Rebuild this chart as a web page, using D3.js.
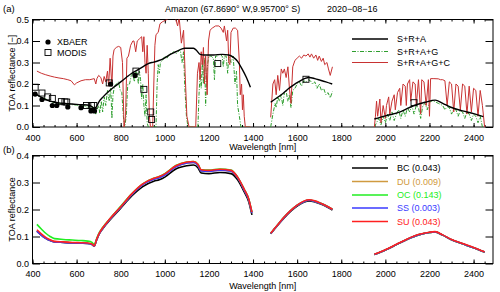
<!DOCTYPE html>
<html><head><meta charset="utf-8">
<script src="https://cdn.jsdelivr.net/npm/d3@7"></script>
<style>
body{margin:0;background:#fff;}
text{font-family:"Liberation Sans",Arial,sans-serif;}
</style></head><body>
<svg id="c" width="500" height="292"></svg>
<script>
// ---------- Panel (a) data ----------
const xTicksMajor = [400,600,800,1000,1200,1400,1600,1800,2000,2200,2400];
const yTicksA = [0.0,0.1,0.2,0.3,0.4,0.5];
const yTicksB = [0.0,0.1,0.2,0.3,0.4];

// S+R+A (black)
const blkWl1 = [416,440,460,480,500,520,550,580,620,660,680,690,700,720,750,775,800,825,850,875,900,925,950,970,1000,1025,1050,1075,1090,1130,1145,1160,1180,1220,1260,1290,1310,1330,1350,1370,1388];
const blkV1  = [0.153,0.138,0.127,0.12,0.115,0.112,0.11,0.107,0.104,0.1,0.088,0.095,0.115,0.14,0.17,0.19,0.21,0.23,0.25,0.265,0.28,0.295,0.302,0.308,0.322,0.338,0.35,0.362,0.366,0.366,0.355,0.338,0.335,0.335,0.338,0.335,0.325,0.305,0.27,0.23,0.185];
const blkWl2 = [1480,1510,1537,1560,1583,1610,1636,1655,1680,1704,1730,1759];
const blkV2  = [0.115,0.137,0.157,0.178,0.195,0.212,0.226,0.23,0.225,0.218,0.21,0.2];
const blkWl3 = [1950,2000,2067,2130,2180,2226,2260,2294,2350,2400,2444];
const blkV3  = [0.037,0.052,0.07,0.1,0.115,0.125,0.11,0.093,0.075,0.062,0.048];

// S+R+A+G (green dash-dot)
const grnWl1 = [416,500,600,640,650,655,665,672,680,687,692,700,705,712,718,725,732,740,748,755,760,765,772,780,790,798,805,812,818,825,832,840,848,855,862,868,875,880,885,890,895,900,905,910,915,920,925,960,965,970,975,980,990,1000,1010,1020,1030,1040,1050,1060,1070,1078,1085,1090,1098,1105,1150,1155,1160,1165,1170,1175,1180,1185,1190,1195,1200,1210,1220,1225,1230,1240,1250,1260,1265,1270,1278,1285,1290,1300,1310,1318,1325,1330,1338,1345,1388];
const grnV1  = [0.15,0.112,0.102,0.098,0.085,0.1,0.08,0.095,0.085,0.06,0.08,0.1,0.065,0.12,0.07,0.14,0.1,0.17,0.12,0.18,0.04,0.15,0.19,0.2,0.21,0.17,0.16,0.05,0.0,0.05,0.2,0.2,0.24,0.25,0.21,0.26,0.25,0.2,0.26,0.22,0.13,0.2,0.1,0.05,0.15,0.02,0.0,0.0,0.2,0.29,0.25,0.3,0.31,0.33,0.32,0.34,0.34,0.35,0.34,0.35,0.36,0.3,0.35,0.2,0.05,0.0,0.0,0.15,0.25,0.18,0.3,0.2,0.32,0.1,0.25,0.3,0.33,0.33,0.32,0.22,0.33,0.33,0.34,0.33,0.28,0.33,0.33,0.25,0.33,0.3,0.33,0.2,0.26,0.1,0.05,0.0,0.0];
const grnWl2 = [1480,1490,1500,1505,1512,1520,1527,1535,1542,1550,1557,1565,1572,1580,1590,1600,1610,1620,1630,1640,1650,1660,1670,1680,1690,1700,1710,1720,1730,1740,1750,1760];
const grnV2  = [0.0,0.06,0.11,0.09,0.14,0.12,0.15,0.1,0.16,0.17,0.12,0.15,0.09,0.17,0.18,0.2,0.21,0.19,0.215,0.21,0.22,0.215,0.2,0.21,0.18,0.2,0.17,0.18,0.15,0.16,0.135,0.165];
const grnWl3 = [1950,1960,1970,1980,1990,2000,2010,2020,2030,2040,2050,2060,2070,2080,2090,2100,2110,2120,2130,2140,2150,2160,2170,2180,2190,2200,2210,2220,2230,2240,2250,2260,2270,2280,2290,2300,2310,2320,2330,2340,2350,2360,2370,2380,2390,2400,2410,2420,2430,2440,2450];
const grnV3  = [0.0,0.02,0.04,0.01,0.05,0.02,0.06,0.03,0.07,0.03,0.06,0.08,0.04,0.08,0.05,0.09,0.07,0.1,0.06,0.1,0.09,0.04,0.1,0.11,0.08,0.115,0.12,0.12,0.115,0.11,0.105,0.1,0.08,0.095,0.09,0.06,0.085,0.08,0.05,0.078,0.07,0.04,0.07,0.06,0.03,0.06,0.05,0.02,0.05,0.0,0.0];

// S+R+A+G+C (red)
const redWl1 = [420,440,460,480,500,520,540,560,575,590,600,620,640,660,680,687,692,700,710,718,725,732,740,745,752,760,765,770,780,790,800,808,815,822,828,835,845,855,860,868,875,885,895,900,905,910,915,920,925,930,935,945,950,955,960,970,978,990,1010,1020,1035,1050,1058,1065,1075,1085,1092,1100,1110,1140,1148,1155,1160,1165,1170,1175,1180,1185,1192,1198,1205,1215,1230,1245,1255,1265,1270,1280,1285,1290,1295,1300,1310,1320,1330,1338,1342,1348,1352,1356,1360,1365,1388];
const redV1  = [0.26,0.25,0.243,0.237,0.232,0.228,0.225,0.22,0.215,0.196,0.205,0.215,0.22,0.22,0.225,0.2,0.225,0.24,0.23,0.2,0.235,0.21,0.26,0.19,0.32,0.19,0.33,0.36,0.37,0.375,0.37,0.3,0.0,0.05,0.32,0.33,0.38,0.4,0.4,0.35,0.4,0.41,0.42,0.35,0.42,0.3,0.25,0.38,0.25,0.05,0.0,0.0,0.2,0.38,0.43,0.44,0.48,0.49,0.5,0.51,0.52,0.5,0.47,0.51,0.39,0.45,0.25,0.05,0.0,0.0,0.25,0.3,0.22,0.35,0.29,0.37,0.2,0.33,0.15,0.4,0.45,0.46,0.47,0.47,0.46,0.44,0.47,0.4,0.45,0.3,0.29,0.44,0.46,0.46,0.45,0.3,0.15,0.2,0.08,0.15,0.05,0.0,0.0];
const redWl2 = [1480,1490,1498,1505,1512,1520,1528,1535,1542,1550,1558,1565,1572,1580,1590,1600,1610,1620,1630,1640,1650,1658,1665,1675,1685,1693,1700,1710,1718,1725,1735,1742,1750,1760];
const redV2  = [0.045,0.2,0.22,0.15,0.24,0.17,0.27,0.25,0.27,0.23,0.28,0.18,0.11,0.28,0.31,0.32,0.33,0.32,0.335,0.33,0.34,0.325,0.34,0.32,0.335,0.31,0.33,0.305,0.32,0.29,0.3,0.27,0.24,0.28];
const redWl3 = [1950,1955,1960,1965,1975,1980,1990,2000,2005,2015,2020,2030,2040,2045,2055,2065,2070,2080,2090,2095,2100,2110,2115,2125,2135,2140,2150,2160,2165,2175,2185,2195,2200,2205,2220,2240,2250,2260,2270,2280,2290,2300,2310,2320,2330,2340,2350,2360,2370,2380,2390,2400,2410,2420,2430,2440,2450];
const redV3  = [0.0,0.05,0.12,0.05,0.13,0.02,0.1,0.04,0.1,0.14,0.06,0.12,0.15,0.08,0.16,0.18,0.1,0.2,0.19,0.1,0.2,0.22,0.12,0.21,0.2,0.1,0.22,0.06,0.22,0.21,0.1,0.22,0.05,0.225,0.225,0.224,0.22,0.22,0.215,0.1,0.21,0.2,0.07,0.2,0.19,0.08,0.2,0.19,0.06,0.19,0.07,0.18,0.17,0.05,0.17,0.1,0.0];

// XBAER (dots) and MODIS (squares)
const xbaerWl = [412,443,490,510,560,620,665,681,754,865];
const xbaerV  = [0.153,0.128,0.1,0.1,0.093,0.09,0.075,0.075,0.2,0.24];
const modisWl = [412,443,469,490,531,547,555,645,667,678,748,869,905,936,940,1240,1640,2130];
const modisV  = [0.185,0.158,0.14,0.133,0.118,0.117,0.116,0.1,0.1,0.1,0.205,0.26,0.175,0.07,0.035,0.295,0.222,0.113];

// ---------- Panel (b) data ----------
const bWl1 = [420,440,460,480,500,540,580,620,650,670,680,690,700,720,750,800,850,900,950,975,1000,1050,1100,1130,1150,1165,1200,1250,1300,1330,1360,1380,1395];
const bBC1 = [0.12,0.105,0.093,0.085,0.08,0.078,0.076,0.075,0.074,0.07,0.064,0.085,0.105,0.13,0.16,0.205,0.25,0.285,0.305,0.31,0.32,0.35,0.362,0.365,0.355,0.335,0.333,0.337,0.333,0.31,0.265,0.23,0.18];
const bDU1 = [0.121,0.106,0.094,0.086,0.081,0.079,0.077,0.076,0.075,0.071,0.065,0.086,0.106,0.132,0.163,0.208,0.255,0.292,0.312,0.318,0.328,0.358,0.372,0.374,0.364,0.343,0.342,0.346,0.342,0.318,0.272,0.237,0.187];
const bOC1 = [0.145,0.128,0.112,0.1,0.092,0.089,0.087,0.085,0.083,0.078,0.07,0.09,0.11,0.135,0.165,0.212,0.258,0.295,0.316,0.322,0.333,0.363,0.376,0.378,0.368,0.347,0.346,0.35,0.346,0.32,0.275,0.24,0.19];
const bSS1 = [0.12,0.105,0.093,0.085,0.08,0.078,0.076,0.075,0.074,0.07,0.065,0.086,0.106,0.132,0.163,0.208,0.255,0.292,0.312,0.318,0.328,0.358,0.372,0.374,0.364,0.343,0.342,0.346,0.342,0.318,0.272,0.237,0.187];
const bSU1 = [0.125,0.11,0.097,0.088,0.082,0.08,0.078,0.077,0.076,0.072,0.066,0.088,0.108,0.134,0.165,0.21,0.258,0.295,0.316,0.322,0.332,0.362,0.376,0.378,0.368,0.347,0.345,0.349,0.345,0.32,0.275,0.24,0.19];
const bWl2 = [1480,1510,1540,1570,1600,1630,1655,1680,1710,1740,1760];
const bBC2 = [0.11,0.14,0.168,0.193,0.213,0.227,0.232,0.228,0.219,0.207,0.198];
const bDU2 = [0.111,0.141,0.17,0.195,0.215,0.229,0.234,0.23,0.221,0.209,0.2];
const bOC2 = [0.112,0.142,0.171,0.196,0.216,0.23,0.235,0.231,0.222,0.21,0.201];
const bSS2 = [0.111,0.141,0.17,0.195,0.215,0.229,0.234,0.23,0.221,0.209,0.2];
const bSU2 = [0.112,0.142,0.171,0.196,0.216,0.231,0.236,0.232,0.222,0.21,0.201];
const bWl3 = [1950,2000,2050,2100,2150,2200,2225,2260,2300,2350,2400,2450];
const bBC3 = [0.033,0.05,0.07,0.09,0.106,0.115,0.117,0.105,0.088,0.073,0.058,0.042];
const bDU3 = [0.033,0.05,0.07,0.09,0.106,0.115,0.117,0.105,0.088,0.073,0.058,0.042];
const bOC3 = [0.033,0.05,0.07,0.09,0.106,0.115,0.117,0.105,0.088,0.073,0.058,0.042];
const bSS3 = [0.033,0.05,0.07,0.09,0.106,0.115,0.117,0.105,0.088,0.073,0.058,0.042];
const bSU3 = [0.034,0.051,0.071,0.091,0.107,0.116,0.118,0.106,0.089,0.074,0.059,0.043];

const aerosolNames = ["BC (0.043)","DU (0.009)","OC (0.143)","SS (0.003)","SU (0.043)"];
const aerosolColors = ["#000000","#d09a40","#22ee22","#3a3aff","#ff2020"];
const legendA = ["S+R+A","S+R+A+G","S+R+A+G+C"];

// ---------- drawing ----------
const svg = d3.select("#c");
const L = 32.5, R = 493;
const x = d3.scaleLinear().domain([400,2488]).range([L,R]);
const yA = d3.scaleLinear().domain([0,0.5]).range([127,19.5]);
const yB = d3.scaleLinear().domain([0,0.4]).range([263.5,155.5]);
const minorX = d3.range(400,2488,50);

function zip(w,v){return w.map((d,i)=>[d,v[i]]);}

svg.append("defs").append("clipPath").attr("id","clipA")
  .append("rect").attr("x",L).attr("y",19.5).attr("width",R-L).attr("height",127-19.5);
svg.select("defs").append("clipPath").attr("id","clipB")
  .append("rect").attr("x",L).attr("y",155.5).attr("width",R-L).attr("height",263.5-155.5);

function frame(y, yTicks, top, bot, yLabel){
  // bottom major
  svg.append("g").attr("transform",`translate(0,${bot})`)
    .call(d3.axisBottom(x).tickValues(xTicksMajor).tickSize(-4).tickPadding(7.5).tickFormat(d3.format("d")))
    .call(g=>{g.select(".domain").remove(); g.selectAll("text").attr("font-size",9).attr("fill","#000").attr("font-family","Liberation Sans, Arial");});
  svg.append("g").attr("transform",`translate(0,${bot})`)
    .call(d3.axisBottom(x).tickValues(minorX).tickSize(-2).tickFormat(""))
    .call(g=>g.select(".domain").remove());
  // top
  svg.append("g").attr("transform",`translate(0,${top})`)
    .call(d3.axisTop(x).tickValues(xTicksMajor).tickSize(-4).tickFormat(""))
    .call(g=>g.select(".domain").remove());
  svg.append("g").attr("transform",`translate(0,${top})`)
    .call(d3.axisTop(x).tickValues(minorX).tickSize(-2).tickFormat(""))
    .call(g=>g.select(".domain").remove());
  // left
  svg.append("g").attr("transform",`translate(${L},0)`)
    .call(d3.axisLeft(y).tickValues(yTicks).tickSize(-7.5).tickPadding(3.5).tickFormat(d3.format(".1f")))
    .call(g=>{g.select(".domain").remove(); g.selectAll("text").attr("font-size",9).attr("fill","#000").attr("font-family","Liberation Sans, Arial");});
  // right
  svg.append("g").attr("transform",`translate(${R},0)`)
    .call(d3.axisRight(y).tickValues(yTicks).tickSize(-7.5).tickFormat(""))
    .call(g=>g.select(".domain").remove());
  svg.append("rect").attr("x",L).attr("y",top).attr("width",R-L).attr("height",bot-top)
    .attr("fill","none").attr("stroke","#000").attr("stroke-width",1);
  svg.selectAll(".tick line").attr("stroke","#000");
  svg.append("text").attr("transform",`translate(14.5,${(top+bot)/2}) rotate(-90)`)
    .attr("text-anchor","middle").attr("font-size",9).text(yLabel);
}

frame(yA, yTicksA, 19.5, 127, "TOA reflectance [\u2212]");
frame(yB, yTicksB, 155.5, 263.5, "TOA reflectance");

svg.append("text").attr("x",L+(R-L)/2).attr("y",150).attr("text-anchor","middle").attr("font-size",9).text("Wavelength [nm]");
svg.append("text").attr("x",L+(R-L)/2).attr("y",289).attr("text-anchor","middle").attr("font-size",9).text("Wavelength [nm]");
svg.append("text").attr("x",3).attr("y",12).attr("font-size",9.5).text("(a)");
svg.append("text").attr("x",3).attr("y",153).attr("font-size",9.5).text("(b)");
svg.append("text").attr("x",165).attr("y",11.5).attr("font-size",9).text("Amazon (67.8690\u00b0 W,9.95700\u00b0 S)");
svg.append("text").attr("x",327).attr("y",11.5).attr("font-size",9).text("2020\u221208\u221216");

const lineA = d3.line().x(d=>x(d[0])).y(d=>yA(d[1]));
const lineB = d3.line().x(d=>x(d[0])).y(d=>yB(d[1])).curve(d3.curveMonotoneX);
const gA = svg.append("g").attr("clip-path","url(#clipA)");

const blackSegs = [zip(blkWl1,blkV1),zip(blkWl2,blkV2),zip(blkWl3,blkV3)];
const greenSegs = [zip(grnWl1,grnV1),zip(grnWl2,grnV2),zip(grnWl3,grnV3)];
const redSegs = [zip(redWl1,redV1),zip(redWl2,redV2),zip(redWl3,redV3)];

greenSegs.forEach(s=>gA.append("path").attr("d",lineA(s)).attr("fill","none").attr("stroke","#2e9e2e").attr("stroke-width",1).attr("stroke-dasharray","4,1.5,1,1.5"));
redSegs.forEach(s=>gA.append("path").attr("d",lineA(s)).attr("fill","none").attr("stroke","#c83232").attr("stroke-width",1));
blackSegs.forEach(s=>gA.append("path").attr("d",lineA.curve(d3.curveMonotoneX)(s)).attr("fill","none").attr("stroke","#000").attr("stroke-width",1.4));
lineA.curve(d3.curveLinear);

// markers
gA.selectAll(".dot").data(zip(xbaerWl,xbaerV)).join("circle")
  .attr("cx",d=>x(d[0])).attr("cy",d=>yA(d[1])).attr("r",2.6).attr("fill","#000");
gA.selectAll(".sq").data(zip(modisWl,modisV)).join("rect")
  .attr("x",d=>x(d[0])-3).attr("y",d=>yA(d[1])-3).attr("width",6).attr("height",6)
  .attr("fill","none").attr("stroke","#000").attr("stroke-width",0.9);

// legend (a) markers
svg.append("circle").attr("cx",48).attr("cy",42).attr("r",2.6).attr("fill","#000");
svg.append("text").attr("x",57).attr("y",45).attr("font-size",9).text("XBAER");
svg.append("rect").attr("x",45).attr("y",49.5).attr("width",6).attr("height",6).attr("fill","none").attr("stroke","#000").attr("stroke-width",0.9);
svg.append("text").attr("x",57).attr("y",55.5).attr("font-size",9).text("MODIS");

// legend (a) lines
const legAy = [39,51.5,62.5];
const legAstyle = [{c:"#000",w:1.4,d:null},{c:"#2e9e2e",w:1,d:"4,1.5,1,1.5"},{c:"#c83232",w:1,d:null}];
legendA.forEach((t,i)=>{
  svg.append("line").attr("x1",352).attr("x2",388).attr("y1",legAy[i]).attr("y2",legAy[i])
    .attr("stroke",legAstyle[i].c).attr("stroke-width",legAstyle[i].w).attr("stroke-dasharray",legAstyle[i].d);
  svg.append("text").attr("x",397).attr("y",legAy[i]+3.2).attr("font-size",9).text(t);
});

// panel (b)
const gB = svg.append("g").attr("clip-path","url(#clipB)");
const bSeries = [
  [zip(bWl1,bBC1),zip(bWl2,bBC2),zip(bWl3,bBC3)],
  [zip(bWl1,bDU1),zip(bWl2,bDU2),zip(bWl3,bDU3)],
  [zip(bWl1,bOC1),zip(bWl2,bOC2),zip(bWl3,bOC3)],
  [zip(bWl1,bSS1),zip(bWl2,bSS2),zip(bWl3,bSS3)],
  [zip(bWl1,bSU1),zip(bWl2,bSU2),zip(bWl3,bSU3)]
];
bSeries.forEach((segs,i)=>segs.forEach(s=>gB.append("path").attr("d",lineB(s)).attr("fill","none")
  .attr("stroke",aerosolColors[i]).attr("stroke-width",1.6)));

const legBy = [168,181.5,195,208,221.5];
aerosolNames.forEach((t,i)=>{
  svg.append("line").attr("x1",352).attr("x2",388).attr("y1",legBy[i]).attr("y2",legBy[i])
    .attr("stroke",aerosolColors[i]).attr("stroke-width",1.6);
  svg.append("text").attr("x",397).attr("y",legBy[i]+3.2).attr("font-size",9).attr("fill",aerosolColors[i]).text(t);
});
</script>
</body></html>
